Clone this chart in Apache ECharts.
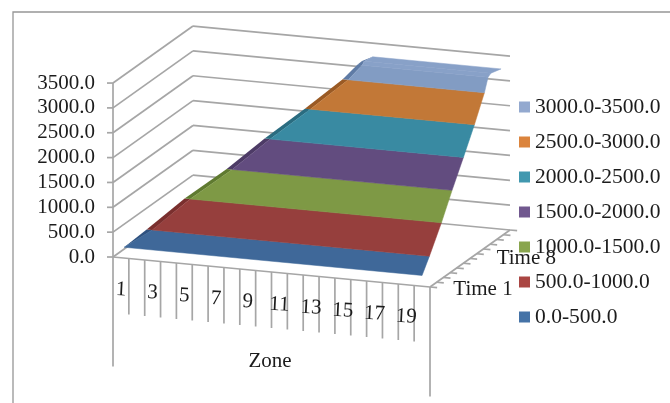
<!DOCTYPE html>
<html lang="en">
  <head>
    <meta charset="UTF-8" />
    <title>Zone surface</title>
    <style>
      html, body { margin: 0; background: #fff; }
      #chart { width: 670px; height: 403px; filter: blur(0.45px); }
    </style>
    <script src="https://cdn.jsdelivr.net/npm/echarts@6/dist/echarts.min.js"></script>
  </head>
  <body>
    <div id="chart"></div>
    <script>
      // axis content
      const valueTicks = [0, 500, 1000, 1500, 2000, 2500, 3000, 3500];
      const zoneLabels = [1, 3, 5, 7, 9, 11, 13, 15, 17, 19];
      const timeLabels = ["Time 1", "Time 8"];
      const timeLabelPos = [1, 7.5];
      const bandNames = [
        "0.0-500.0",
        "500.0-1000.0",
        "1000.0-1500.0",
        "1500.0-2000.0",
        "2000.0-2500.0",
        "2500.0-3000.0",
        "3000.0-3500.0",
      ];
      const legendColors = ["#4573a7", "#aa4643", "#89a54e", "#71588f", "#4198af", "#db843d", "#93a9cf"];
      const faceColors = ["#3f6899", "#963f3d", "#7e9945", "#624c7f", "#398aa2", "#c27837", "#829cc3"];
      const sideColors = ["#2f5280", "#7a2f2e", "#5f7a30", "#4d3b66", "#2a6c80", "#9a5a24", "#5f7ba5"];
      const ridgeColor = "#88a1c8";

      // surface outline, front row to back row
      const rowTime = [0.5, 1.6, 3.4, 5.0, 6.7, 8.35, 9.85, 10.4, 10.82, 12.35];
      const rowValue = [217, 500, 1000, 1500, 2000, 2500, 3000, 3260, 3300, 3240];
      const rowZoneStart = [1.2, 2.16, 3.8, 5.78, 7.46, 9.3, 11.06, 11.75, 11.87, 11.9];
      const rowSideWidth = [0, 0.35, 0.35, 0.35, 0.35, 0.35, 0.35, 0.3, 0.15, 0];
      const rowZoneEnd = [20, 20, 20, 20, 20, 20, 20, 20, 20, 20];

      const zoneCount = 20;
      const timeCount = 12;

      // oblique projection of the 3d box onto the page
      function project(zone, time, value) {
        const u = (zone - 0.5) / zoneCount;
        const t = (time - 0.5) / timeCount;
        return [113 + 317 * u + 80 * t, 257 + 30 * u - 57 * t - value * 0.0497];
      }

      const lineStyle = { stroke: "#a6a6a6", lineWidth: 1.7, fill: null };
      const textColor = "#1c1c1c";
      const font = "21px 'Liberation Serif'";

      function renderFrame(params, api) {
        const children = [];
        const line = (a, b, style) => {
          const p = api.coord(a);
          const q = api.coord(b);
          children.push({
            type: "line",
            shape: { x1: p[0], y1: p[1], x2: q[0], y2: q[1] },
            style: style || lineStyle,
          });
        };
        const text = (str, pos, align, rotation) => {
          const p = api.coord(pos);
          children.push({
            type: "text",
            x: p[0],
            y: p[1],
            rotation: rotation || 0,
            style: { text: str, fill: textColor, font: font, align: align, verticalAlign: "middle" },
          });
        };
        const zoneMin = 0.5;
        const zoneMax = zoneCount + 0.5;
        const timeMin = 0.5;
        const timeMax = timeCount + 0.5;

        valueTicks.forEach((v) => {
          const front = project(zoneMin, timeMin, v);
          const back = project(zoneMin, timeMax, v);
          line(front, back);
          line(back, project(zoneMax, timeMax, v));
          line([front[0] - 6, front[1]], front);
          text(v.toFixed(1), [95, front[1]], "right");
        });

        // floor edges
        const fl = project(zoneMin, timeMin, 0);
        const fr = project(zoneMax, timeMin, 0);
        line(fl, fr);
        line(fr, project(zoneMax, timeMax, 0));
        line(fl, project(zoneMin, timeMin, 3500));

        // zone ticks hang down from the front floor edge
        for (let k = 0; k <= zoneCount; k++) {
          const p = project(zoneMin + k, timeMin, 0);
          const long = k === 0 || k === zoneCount;
          line(p, [p[0], p[1] + (long ? 109.5 : 56)]);
        }
        zoneLabels.forEach((z) => {
          const p = project(z, timeMin, 0);
          text(String(z), [p[0], p[1] + 32], "center", -0.05);
        });
        text("Zone", [270, 361], "center");

        // time ticks along the right floor edge
        for (let k = 0; k <= timeCount; k++) {
          const p = project(zoneMax, timeMin + k, 0);
          line(p, project(zoneMax + 0.45, timeMin + k, 0));
        }
        timeLabels.forEach((name, i) => {
          const p = project(zoneMax, timeLabelPos[i], 0);
          text(name, [p[0] + 20, p[1] + 5], "left");
        });

        return { type: "group", children: children };
      }

      function renderSegment(band) {
        return function (params, api) {
          const i = api.value(0);
          const pt = (zone, r) => api.coord(project(zone, rowTime[r], rowValue[r]));
          const innerA = rowZoneStart[i] + rowSideWidth[i];
          const innerB = rowZoneStart[i + 1] + rowSideWidth[i + 1];
          const color = rowValue[i] >= 3260 ? ridgeColor : faceColors[band];
          return {
            type: "group",
            children: [
              {
                type: "polygon",
                shape: {
                  points: [pt(rowZoneStart[i], i), pt(innerA, i), pt(innerB, i + 1), pt(rowZoneStart[i + 1], i + 1)],
                },
                style: { fill: sideColors[band] },
              },
              {
                type: "polygon",
                shape: {
                  points: [pt(innerA, i), pt(rowZoneEnd[i], i), pt(rowZoneEnd[i + 1], i + 1), pt(innerB, i + 1)],
                },
                style: { fill: color, stroke: color, lineWidth: 0.5 },
              },
            ],
          };
        };
      }

      const segmentsByBand = bandNames.map(() => []);
      for (let i = 0; i < rowValue.length - 1; i++) {
        const band = Math.floor(Math.min(rowValue[i], rowValue[i + 1]) / 500);
        segmentsByBand[band].push([i]);
      }

      const bandSeries = bandNames.map((name, band) => ({
        name: name,
        type: "custom",
        coordinateSystem: "cartesian2d",
        renderItem: renderSegment(band),
        data: segmentsByBand[band],
        itemStyle: { color: legendColors[band] },
        encode: { x: 0, y: 0 },
        silent: true,
        z: 3,
      }));

      const chart = echarts.init(document.getElementById("chart"));
      chart.setOption({
        animation: false,
        backgroundColor: "#fff",
        grid: { left: 0, right: 0, top: 0, bottom: 0 },
        xAxis: { type: "value", min: 0, max: 670, show: false },
        yAxis: { type: "value", min: 0, max: 403, inverse: true, show: false },
        legend: {
          orient: "vertical",
          left: 514,
          top: 91,
          icon: "rect",
          itemWidth: 11,
          itemHeight: 11,
          itemGap: 13,
          selectedMode: false,
          data: bandNames.slice().reverse(),
          textStyle: { fontFamily: "Liberation Serif", fontSize: 21.5, color: textColor },
        },
        graphic: [
          {
            type: "polyline",
            shape: { points: [[13, 403], [13, 12], [670, 12]] },
            style: { stroke: "#969696", lineWidth: 1.3, fill: null },
            silent: true,
          },
        ],
        series: [
          {
            type: "custom",
            coordinateSystem: "cartesian2d",
            renderItem: renderFrame,
            data: [[0, 0]],
            silent: true,
            z: 1,
          },
        ].concat(bandSeries),
      });
    </script>
  </body>
</html>
